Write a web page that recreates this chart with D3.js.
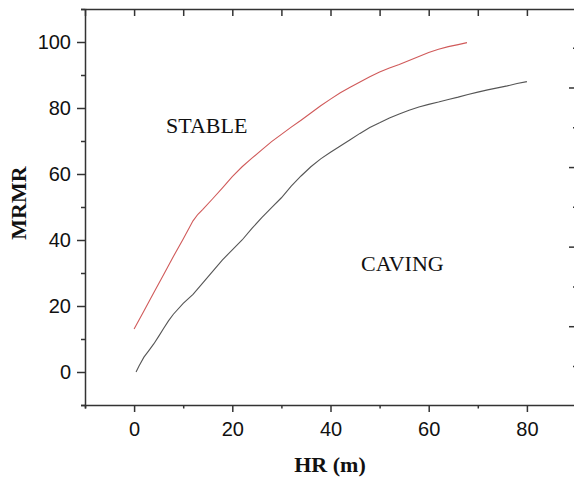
<!DOCTYPE html>
<html>
<head>
<meta charset="utf-8">
<script src="https://cdn.jsdelivr.net/npm/d3@7"></script>
<style>
  body { margin: 0; background: #fff; }
  .tick text { font-family: "Liberation Sans", Arial, sans-serif; font-size: 20px; fill: #111; }
  .axis path, .axis line { stroke: #333; stroke-width: 1.5; }
  .title { font-family: "Liberation Serif", "Times New Roman", serif; font-weight: bold; font-size: 22px; fill: #111; }
  .zone { font-family: "Liberation Serif", "Times New Roman", serif; font-size: 22px; fill: #111; }
</style>
</head>
<body>
<div id="chart"></div>
<script>
// stable / caving boundary lines
const stableX = [0, 2, 4, 6, 8, 10, 12, 13, 14, 16, 18, 20, 22, 24, 26, 28, 30, 32, 34, 36, 38, 40, 42, 44, 46, 48, 50, 52, 54, 56, 58, 60, 62, 64, 66, 67.8];
const stableY = [13, 18.5, 24, 29.5, 35, 40.3, 45.8, 47.8, 49.3, 52.5, 55.8, 59.2, 62.2, 64.8, 67.3, 69.8, 72, 74.2, 76.3, 78.5, 80.7, 82.7, 84.6, 86.3, 87.9, 89.5, 90.9, 92.1, 93.2, 94.4, 95.6, 96.8, 97.8, 98.6, 99.2, 99.8];
const cavingX = [0.4, 1, 2, 3, 4, 5, 6, 7, 8, 10, 12, 14, 16, 18, 20, 22, 24, 26, 28, 30, 32, 34, 36, 38, 40, 42, 44, 46, 48, 50, 52, 54, 56, 58, 60, 62, 64, 66, 68, 70, 72, 74, 76, 78, 80];
const cavingY = [0, 1.8, 4.5, 6.5, 8.5, 10.8, 13.2, 15.5, 17.5, 20.8, 23.5, 27, 30.5, 34, 37, 40, 43.5, 46.8, 49.8, 52.8, 56.3, 59.4, 62.2, 64.6, 66.6, 68.5, 70.4, 72.3, 74.1, 75.5, 77, 78.2, 79.3, 80.3, 81.1, 81.8, 82.6, 83.3, 84.1, 84.8, 85.5, 86.1, 86.7, 87.4, 88];

const xMajor = [0, 20, 40, 60, 80];
const xMinor = [-10, 10, 30, 50, 70, 90];
const yMajor = [0, 20, 40, 60, 80, 100];
const yMinor = [-10, 10, 30, 50, 70, 90, 110];
const topTicks = [-10, 0, 10, 20, 30, 40, 50, 60, 70, 80, 90];
const rightMajor = [0, 20, 40, 60];
const rightMinor = [-10, 10, 30, 50, 70];

const fullWidth = 574;
const fullHeight = 477;

const svg = d3.select('#chart')
  .append('svg')
  .attr('width', fullWidth)
  .attr('height', fullHeight);

const xScale = d3.scaleLinear().domain([-10, 90]).range([85, 576]);
const yScale = d3.scaleLinear().domain([-10, 110]).range([405, 9]);
// the right-hand frame ticks don't line up with the left axis
const rightScale = d3.scaleLinear().domain([-10, 70]).range([366, 47.7]);

// bottom axis
svg.append('g')
  .attr('class', 'axis')
  .attr('transform', `translate(0, ${yScale(-10)})`)
  .call(d3.axisBottom(xScale).tickValues(xMinor).tickSize(3.5).tickFormat(''));
svg.append('g')
  .attr('class', 'axis')
  .attr('transform', `translate(0, ${yScale(-10)})`)
  .call(d3.axisBottom(xScale).tickValues(xMajor).tickSize(7).tickPadding(10).tickFormat(d3.format('d')))
  .call(g => g.select('.domain').remove());

// left axis
svg.append('g')
  .attr('class', 'axis')
  .attr('transform', `translate(${xScale(-10)}, 0)`)
  .call(d3.axisLeft(yScale).tickValues(yMinor).tickSize(4).tickFormat(''));
svg.append('g')
  .attr('class', 'axis')
  .attr('transform', `translate(${xScale(-10)}, 0)`)
  .call(d3.axisLeft(yScale).tickValues(yMajor).tickSize(8).tickPadding(6).tickFormat(d3.format('d')))
  .call(g => g.select('.domain').remove());

// top frame
svg.append('g')
  .attr('class', 'axis')
  .attr('transform', `translate(0, ${yScale(110)})`)
  .call(d3.axisBottom(xScale).tickValues(topTicks).tickSize(7).tickSizeOuter(0).tickFormat(''));

// right frame (line sits just off the page)
svg.append('g')
  .attr('class', 'axis')
  .attr('transform', `translate(576, 0)`)
  .call(d3.axisLeft(rightScale).tickValues(rightMajor).tickSize(7).tickFormat(''))
  .call(g => g.select('.domain').remove());
svg.append('g')
  .attr('class', 'axis')
  .attr('transform', `translate(576, 0)`)
  .call(d3.axisLeft(rightScale).tickValues(rightMinor).tickSize(3).tickFormat(''))
  .call(g => g.select('.domain').remove());

const line = d3.line()
  .x(d => xScale(d[0]))
  .y(d => yScale(d[1]));

svg.append('path')
  .datum(d3.zip(stableX, stableY))
  .attr('fill', 'none')
  .attr('stroke', '#d05a5a')
  .attr('stroke-width', 1.1)
  .attr('d', line);

svg.append('path')
  .datum(d3.zip(cavingX, cavingY))
  .attr('fill', 'none')
  .attr('stroke', '#555')
  .attr('stroke-width', 1.1)
  .attr('d', line);

// labels
svg.append('text')
  .attr('class', 'zone')
  .attr('x', 166)
  .attr('y', 133)
  .text('STABLE');

svg.append('text')
  .attr('class', 'zone')
  .attr('x', 361)
  .attr('y', 271)
  .text('CAVING');

svg.append('text')
  .attr('class', 'title')
  .attr('text-anchor', 'middle')
  .attr('x', 330)
  .attr('y', 472)
  .text('HR (m)');

svg.append('text')
  .attr('class', 'title')
  .attr('text-anchor', 'middle')
  .attr('transform', 'translate(26, 203) rotate(-90)')
  .text('MRMR');
</script>
</body>
</html>
